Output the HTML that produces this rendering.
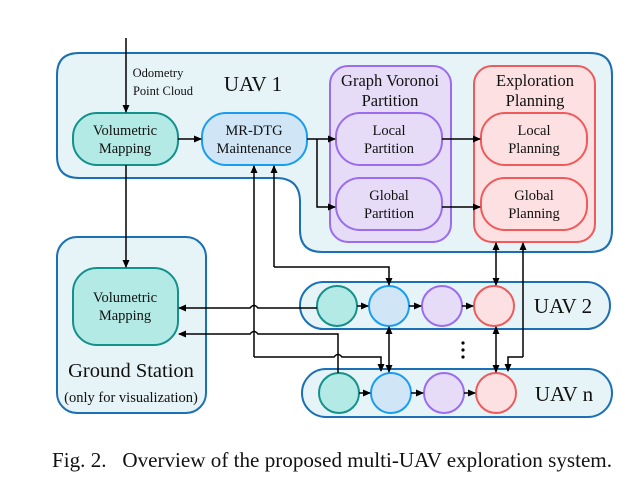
<!DOCTYPE html>
<html><head><meta charset="utf-8"><style>
html,body{margin:0;padding:0;background:#fff;}
svg{display:block;font-family:"Liberation Serif",serif;}
</style></head><body>
<svg width="640" height="493" viewBox="0 0 640 493" xmlns="http://www.w3.org/2000/svg">
<defs>
<marker id="a" markerWidth="8" markerHeight="8" refX="7" refY="4" orient="auto-start-reverse" markerUnits="userSpaceOnUse"><path d="M0,0.5 L8,4 L0,7.5 Z" fill="#000"/></marker>
</defs>
<path d="M57,75 Q57,53 79,53 H590 Q612,53 612,75 V230 Q612,252 590,252 H322 Q300,252 300,230 V202 Q300,178 276,178 H79 Q57,178 57,156 Z" fill="#e6f3f7" stroke="#1a6fb5" stroke-width="2"/>
<rect x="57" y="237" width="149" height="176" rx="20" fill="#e6f3f7" stroke="#1a6fb5" stroke-width="2"/>
<rect x="300" y="282" width="310" height="47" rx="23.5" fill="#e6f3f7" stroke="#1a6fb5" stroke-width="2"/>
<rect x="302" y="369" width="310" height="48" rx="24" fill="#e6f3f7" stroke="#1a6fb5" stroke-width="2"/>
<rect x="330" y="66" width="121" height="176" rx="18" fill="#e6dcf7" stroke="#9b6cf0" stroke-width="2"/>
<rect x="474" y="66" width="121" height="176" rx="18" fill="#fde0e2" stroke="#f05a5a" stroke-width="2"/>
<rect x="73" y="113" width="105" height="52" rx="24" fill="#b3eae6" stroke="#13918a" stroke-width="2"/>
<rect x="202" y="113" width="105" height="52" rx="24" fill="#d0e6f7" stroke="#1a9cf0" stroke-width="2"/>
<rect x="336" y="113" width="106" height="52" rx="24" fill="#e6dcf7" stroke="#9b6cf0" stroke-width="2"/>
<rect x="336" y="178" width="106" height="52" rx="24" fill="#e6dcf7" stroke="#9b6cf0" stroke-width="2"/>
<rect x="481" y="113" width="106" height="52" rx="24" fill="#fde0e2" stroke="#f05a5a" stroke-width="2"/>
<rect x="481" y="178" width="106" height="52" rx="24" fill="#fde0e2" stroke="#f05a5a" stroke-width="2"/>
<rect x="73" y="268" width="105" height="77" rx="24" fill="#b3eae6" stroke="#13918a" stroke-width="2"/>
<g stroke-width="2">
<circle cx="337" cy="306" r="20" fill="#b3eae6" stroke="#13918a"/>
<circle cx="389" cy="306" r="20" fill="#d0e6f7" stroke="#1a9cf0"/>
<circle cx="442" cy="306" r="20" fill="#e6dcf7" stroke="#9b6cf0"/>
<circle cx="494" cy="306" r="20" fill="#fde0e2" stroke="#f05a5a"/>
<circle cx="339" cy="393" r="20" fill="#b3eae6" stroke="#13918a"/>
<circle cx="391" cy="393" r="20" fill="#d0e6f7" stroke="#1a9cf0"/>
<circle cx="444" cy="393" r="20" fill="#e6dcf7" stroke="#9b6cf0"/>
<circle cx="496" cy="393" r="20" fill="#fde0e2" stroke="#f05a5a"/>
</g>
<g stroke="#000" stroke-width="1.5" fill="none">
<line x1="126" y1="38" x2="126" y2="112" marker-end="url(#a)"/>
<line x1="178" y1="139" x2="201" y2="139" marker-end="url(#a)"/>
<line x1="126" y1="165" x2="126" y2="267" marker-end="url(#a)"/>
<line x1="307" y1="139" x2="335" y2="139" marker-end="url(#a)"/>
<polyline points="317,139 317,207 335,207" marker-end="url(#a)"/>
<line x1="442" y1="139" x2="480" y2="139" marker-end="url(#a)"/>
<line x1="442" y1="207" x2="480" y2="207" marker-end="url(#a)"/>
<path d="M274,267 H389 V285" marker-end="url(#a)"/>
<line x1="274" y1="267" x2="274" y2="166" marker-end="url(#a)"/>
<path d="M254,357 H334 Q338,352 342,357 H381 V371" marker-end="url(#a)"/>
<line x1="254" y1="357" x2="254" y2="166" marker-end="url(#a)"/>
<line x1="357" y1="306" x2="368" y2="306" marker-end="url(#a)"/>
<line x1="409" y1="306" x2="421" y2="306" marker-end="url(#a)"/>
<line x1="462" y1="306" x2="473" y2="306" marker-end="url(#a)"/>
<line x1="359" y1="393" x2="370" y2="393" marker-end="url(#a)"/>
<line x1="411" y1="393" x2="423" y2="393" marker-end="url(#a)"/>
<line x1="464" y1="393" x2="475" y2="393" marker-end="url(#a)"/>
<line x1="389" y1="327" x2="389" y2="372" marker-start="url(#a)" marker-end="url(#a)"/>
<line x1="496" y1="243" x2="496" y2="285" marker-start="url(#a)" marker-end="url(#a)"/>
<line x1="496" y1="327" x2="496" y2="372" marker-start="url(#a)" marker-end="url(#a)"/>
<path d="M523,357 H508 V371" marker-end="url(#a)"/>
<line x1="523" y1="357" x2="523" y2="243" marker-end="url(#a)"/>
<path d="M317,308 H258 Q254,303 250,308 H179" marker-end="url(#a)"/>
<path d="M338,373 V334 H258 Q254,329 250,334 H179" marker-end="url(#a)"/>
</g>
<g fill="#000"><circle cx="463" cy="343" r="1.6"/><circle cx="463" cy="350" r="1.6"/><circle cx="463" cy="357" r="1.6"/></g>
<g text-anchor="middle" fill="#111">
<text x="158" y="77" font-size="12.5">Odometry</text>
<text x="163" y="95" font-size="12.5">Point Cloud</text>
<text x="253" y="91" font-size="21">UAV 1</text>
<text x="125" y="135" font-size="14.5">Volumetric</text>
<text x="125" y="153" font-size="14.5">Mapping</text>
<text x="254" y="135" font-size="14.5">MR-DTG</text>
<text x="254" y="153" font-size="14.5">Maintenance</text>
<text x="390" y="86" font-size="16.5">Graph Voronoi</text>
<text x="390" y="106" font-size="16.5">Partition</text>
<text x="535" y="86" font-size="16.5">Exploration</text>
<text x="535" y="106" font-size="16.5">Planning</text>
<text x="389" y="135" font-size="14.5">Local</text>
<text x="389" y="153" font-size="14.5">Partition</text>
<text x="389" y="200" font-size="14.5">Global</text>
<text x="389" y="218" font-size="14.5">Partition</text>
<text x="534" y="135" font-size="14.5">Local</text>
<text x="534" y="153" font-size="14.5">Planning</text>
<text x="534" y="200" font-size="14.5">Global</text>
<text x="534" y="218" font-size="14.5">Planning</text>
<text x="125" y="302" font-size="14.5">Volumetric</text>
<text x="125" y="320" font-size="14.5">Mapping</text>
<text x="131" y="377" font-size="20.5">Ground Station</text>
<text x="131" y="402" font-size="14.5">(only for visualization)</text>
<text x="563" y="313" font-size="21">UAV 2</text>
<text x="564" y="401" font-size="21">UAV n</text>
</g>
<text x="52" y="467" font-size="21" fill="#111" textLength="560" lengthAdjust="spacingAndGlyphs" xml:space="preserve">Fig. 2.   Overview of the proposed multi-UAV exploration system.</text>
</svg>
</body></html>
